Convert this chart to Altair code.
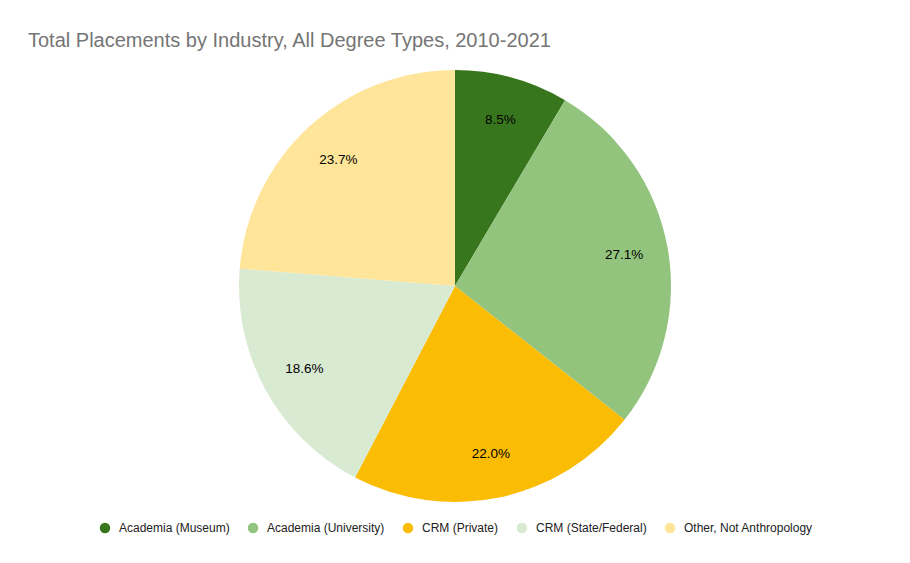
import altair as alt
import pandas as pd

title_text = "Total Placements by Industry, All Degree Types, 2010-2021"
categories = ["Academia (Museum)", "Academia (University)", "CRM (Private)",
              "CRM (State/Federal)", "Other, Not Anthropology"]
shares = [8.5, 27.1, 22.0, 18.6, 23.7]
labels = ["8.5%", "27.1%", "22.0%", "18.6%", "23.7%"]
colors = ["#38761d", "#93c47d", "#fbbc04", "#d9ead3", "#ffe599"]

df = pd.DataFrame({"category": categories, "share": shares,
                   "label": labels, "order": list(range(len(categories)))})

W, H = 894, 547
cx, cy = 447, 278
FONT = "Liberation Sans"

base = alt.Chart(df).encode(
    theta=alt.Theta("share:Q", stack=True),
    order=alt.Order("order:Q"),
)

pie = base.mark_arc(outerRadius=216).encode(
    x=alt.value(cx), y=alt.value(cy),
    color=alt.Color(
        "category:N",
        scale=alt.Scale(domain=categories, range=colors),
        sort=categories,
        legend=alt.Legend(
            orient="none", legendX=91, legendY=514, direction="horizontal",
            title=None, symbolType="circle", symbolSize=110,
            symbolStrokeWidth=0, labelFontSize=12, labelFont=FONT,
            labelColor="#222222", columnPadding=17, labelOffset=8,
        ),
    ),
)

text = base.mark_text(radius=172, fontSize=13.5, font=FONT, color="#000000").encode(
    x=alt.value(cx), y=alt.value(cy),
    text="label:N",
)

title = alt.Chart(pd.DataFrame({"t": [title_text]})).mark_text(
    align="left", baseline="alphabetic", fontSize=20, font=FONT, color="#757575"
).encode(text="t:N", x=alt.value(20), y=alt.value(39))

chart = alt.layer(pie, text, title).properties(
    width=W, height=H, autosize=alt.AutoSizeParams(type="none"), padding=0
).configure_view(stroke=None)

chart.save("out.html", embed_options={"renderer": "svg", "actions": False})
